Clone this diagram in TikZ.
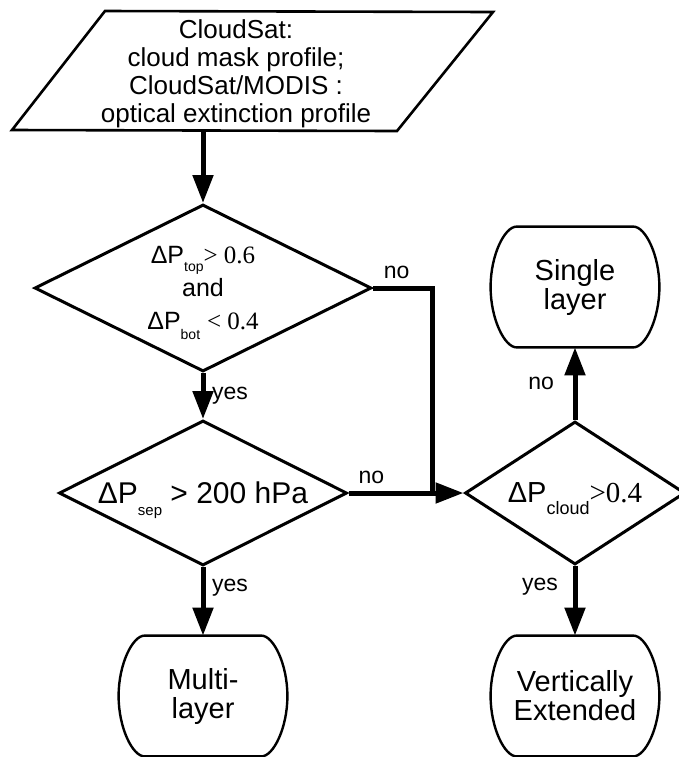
\documentclass[tikz,border=0pt]{standalone}
\usepackage{fontspec}
\setmainfont{Liberation Sans}
\newfontfamily\numfont{Liberation Serif}
\usetikzlibrary{positioning,arrows.meta,shapes.geometric,calc}
\newcommand{\lowsub}[3]{\smash{\raisebox{-#3}{\fontsize{#2}{#2}\selectfont #1}}}

\begin{document}
\begin{tikzpicture}[
  x=0.5pt, y=-0.5pt,
  decision/.style={draw, diamond, line width=1.5pt, inner sep=0pt, align=center},
  terminal/.style={align=center, minimum width=84pt, minimum height=60pt, font=\fontsize{14.5}{14.5}\selectfont},
  arrow/.style={-{Triangle[length=14pt,width=10pt]}, line width=2.5pt},
  link/.style={line width=2.5pt},
  lbl/.style={font=\fontsize{11.5}{13}\selectfont}
]
\useasboundingbox (0,0) rectangle (679,757);

% input data
\coordinate (in-tl) at (105,11);
\coordinate (in-tr) at (493,12);
\coordinate (in-br) at (397,131);
\coordinate (in-bl) at (12,130);
\draw[line width=1.3pt] (in-tl) -- (in-tr) -- (in-br) -- (in-bl) -- cycle;
\node[align=center, font=\fontsize{13}{14}\selectfont] (input) at (236,74)
  {CloudSat:\\cloud mask profile;\\CloudSat/MODIS :\\optical extinction profile};

% tests
\node[decision, minimum width=168.5pt, minimum height=83.5pt, aspect=2,
  font=\fontsize{12.5}{16.5}\selectfont] (ratio) at (203,288)
  {ΔP\lowsub{top}{7}{4pt}{\numfont> 0.6}\\and\\ΔP\lowsub{bot}{7}{5pt} {\numfont< 0.4}};
\node[decision, minimum width=144pt, minimum height=72.5pt, aspect=2,
  font=\fontsize{15}{17}\selectfont] (sep) at (203,493)
  {ΔP\lowsub{sep}{7.5}{6pt} > 200 hPa};
\node[decision, minimum width=110pt, minimum height=71.5pt, aspect=1.5,
  font=\fontsize{14.5}{16}\selectfont] (thick) at (575,493)
  {ΔP\lowsub{cloud}{9}{6pt}{\numfont>0.4}};

% results
\node[terminal] (single) at (575,287) {Single\\layer};
\node[terminal] (multi) at (203,696) {Multi-\\layer};
\node[terminal] (vert) at (575,696) {Vertically\\Extended};
\foreach \n in {single,multi,vert}
  \draw[line width=1.2pt] ($(\n.north west)+(13pt,0)$) -- ($(\n.north east)+(-13pt,0)$)
    .. controls ($(\n.north east)+(-7pt,0)$) and ($(\n.east)+(0,16pt)$) .. (\n.east)
    .. controls ($(\n.east)+(0,-16pt)$) and ($(\n.south east)+(-7pt,0)$) .. ($(\n.south east)+(-13pt,0)$)
    -- ($(\n.south west)+(13pt,0)$)
    .. controls ($(\n.south west)+(7pt,0)$) and ($(\n.west)+(0,-16pt)$) .. (\n.west)
    .. controls ($(\n.west)+(0,16pt)$) and ($(\n.north west)+(7pt,0)$) .. ($(\n.north west)+(13pt,0)$) -- cycle;

\coordinate (merge) at (432,493);

\draw[arrow] (ratio.north |- in-bl) -- (ratio.north);
\draw[arrow] (ratio.south) -- node[lbl, right]{yes} (sep.north);
\draw[link] (ratio.east) -| node[lbl, above, pos=0.2]{no} (merge);
\draw[arrow] (sep.east) -- node[lbl, above, pos=0.2]{no} (thick.west);
\draw[arrow] (sep.south) -- node[lbl, right, pos=0.3]{yes} (multi.north);
\draw[arrow] (thick.north) -- node[lbl, left=6pt]{no} (single.south);
\draw[arrow] (thick.south) -- node[lbl, left=4pt, pos=0.3]{yes} (vert.north);
\end{tikzpicture}
\end{document}
